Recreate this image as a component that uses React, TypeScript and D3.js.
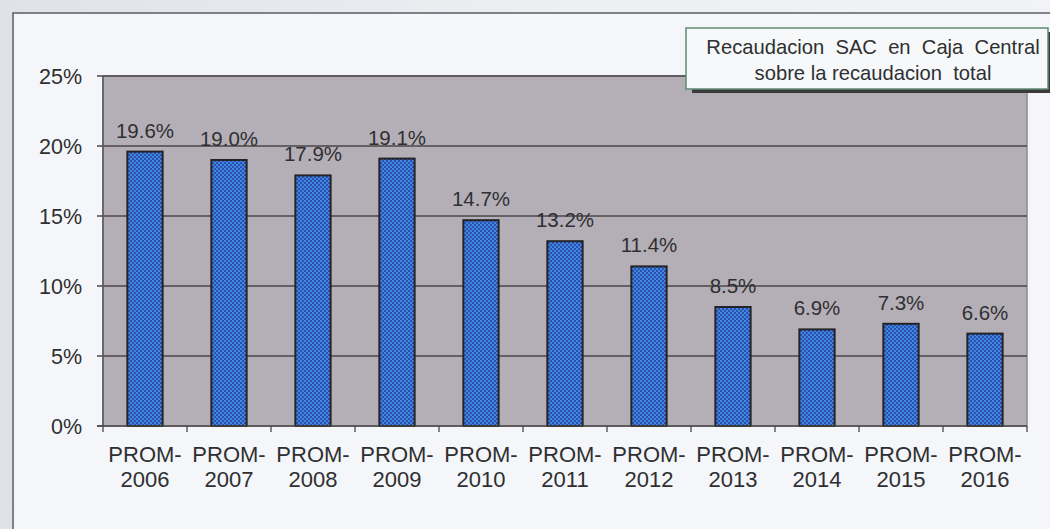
import React from 'react';
import * as d3 from 'd3';

const categories = ['2006', '2007', '2008', '2009', '2010', '2011', '2012', '2013', '2014', '2015', '2016'];
const values = [19.6, 19.0, 17.9, 19.1, 14.7, 13.2, 11.4, 8.5, 6.9, 7.3, 6.6];
const yTicks = [0, 5, 10, 15, 20, 25];
const legendLines = ['Recaudacion  SAC  en  Caja  Central', 'sobre la recaudacion  total'];

const W = 1050;
const H = 529;
const plot = { left: 103, right: 1027, top: 76, bottom: 426 };
const font = 'Liberation Sans, Arial, sans-serif';
const ink = '#2f2f32';

export default function App() {
  const x = d3.scaleBand<string>().domain(categories).range([plot.left, plot.right]).padding(0);
  const y = d3.scaleLinear().domain([0, 25]).range([plot.bottom, plot.top]);
  const barW = x.bandwidth() * 0.42;
  const fmt = (v: number) => v.toFixed(1) + '%';

  return (
    <div style={{ position: 'absolute', left: 0, top: 0 }}>
      <svg width={W} height={H} style={{ display: 'block' }}>
        <defs>
          <linearGradient id="bgTop" x1="0" x2="1" y1="0" y2="0">
            <stop offset="0" stopColor="#dfe2e7" />
            <stop offset="0.5" stopColor="#eceef2" />
            <stop offset="1" stopColor="#f2f3f6" />
          </linearGradient>
          <pattern id="dots" width="4" height="4" patternUnits="userSpaceOnUse">
            <rect width="4" height="4" fill="#2f4cbc" />
            <circle cx="1" cy="1" r="1" fill="#42a0d8" />
            <circle cx="3" cy="3" r="1" fill="#42a0d8" />
          </pattern>
        </defs>

        <rect x={0} y={0} width={W} height={H} fill="url(#bgTop)" />
        {/* chart frame */}
        <rect x={13} y={13} width={W} height={H} fill="#f4f6f9" stroke="#5a5d63" strokeWidth={1.5} />

        {/* plot area */}
        <rect x={plot.left} y={plot.top} width={plot.right - plot.left} height={plot.bottom - plot.top}
          fill="#b4afb6" stroke="#8d8a91" strokeWidth={1.5} />

        {yTicks.map(t => (
          <g key={t}>
            <line x1={plot.left - 6} x2={t === 0 ? plot.left : plot.right} y1={y(t)} y2={y(t)} stroke="#4a4648" strokeWidth={1.3} />
            <text x={82} y={y(t)} dy="0.36em" textAnchor="end" fontFamily={font} fontSize={21.5} fill={ink}>{t}%</text>
          </g>
        ))}

        {/* left axis */}
        <line x1={plot.left} x2={plot.left} y1={plot.top} y2={plot.bottom} stroke="#5a575b" strokeWidth={1.5} />

        {/* bars */}
        {categories.map((c, i) => {
          const cx = x(c)! + x.bandwidth() / 2;
          return (
            <g key={c}>
              <rect x={cx - barW / 2} y={y(values[i])} width={barW} height={y(0) - y(values[i])}
                fill="url(#dots)" stroke="#232226" strokeWidth={2} />
              <text x={cx} y={y(values[i]) - 14} textAnchor="middle" fontFamily={font} fontSize={20.5} fill={ink}>{fmt(values[i])}</text>
              <text x={cx} y={462} textAnchor="middle" fontFamily={font} fontSize={22} fill={ink}>PROM-</text>
              <text x={cx} y={487} textAnchor="middle" fontFamily={font} fontSize={22} fill={ink}>{c}</text>
            </g>
          );
        })}

        {/* x axis */}
        <line x1={plot.left - 6} x2={plot.right} y1={plot.bottom} y2={plot.bottom} stroke="#4a4648" strokeWidth={1.5} />
        {[...categories.map(c => x(c)!), plot.right].map((v, i) => (
          <line key={i} x1={v} x2={v} y1={plot.bottom} y2={plot.bottom + 6} stroke="#4a4648" strokeWidth={1.3} />
        ))}

        {/* legend box */}
        <rect x={692} y={32} width={358} height={61} fill="#3a3a3c" />
        <rect x={686} y={28} width={362} height={61} fill="#f6f8f9" stroke="#5e8a72" strokeWidth={1.5} />
        {legendLines.map((l, i) => (
          <text key={i} x={873} y={54 + i * 26} textAnchor="middle" fontFamily={font} fontSize={20.2} fill={ink} style={{ whiteSpace: 'pre' }}>{l}</text>
        ))}
      </svg>
    </div>
  );
}
